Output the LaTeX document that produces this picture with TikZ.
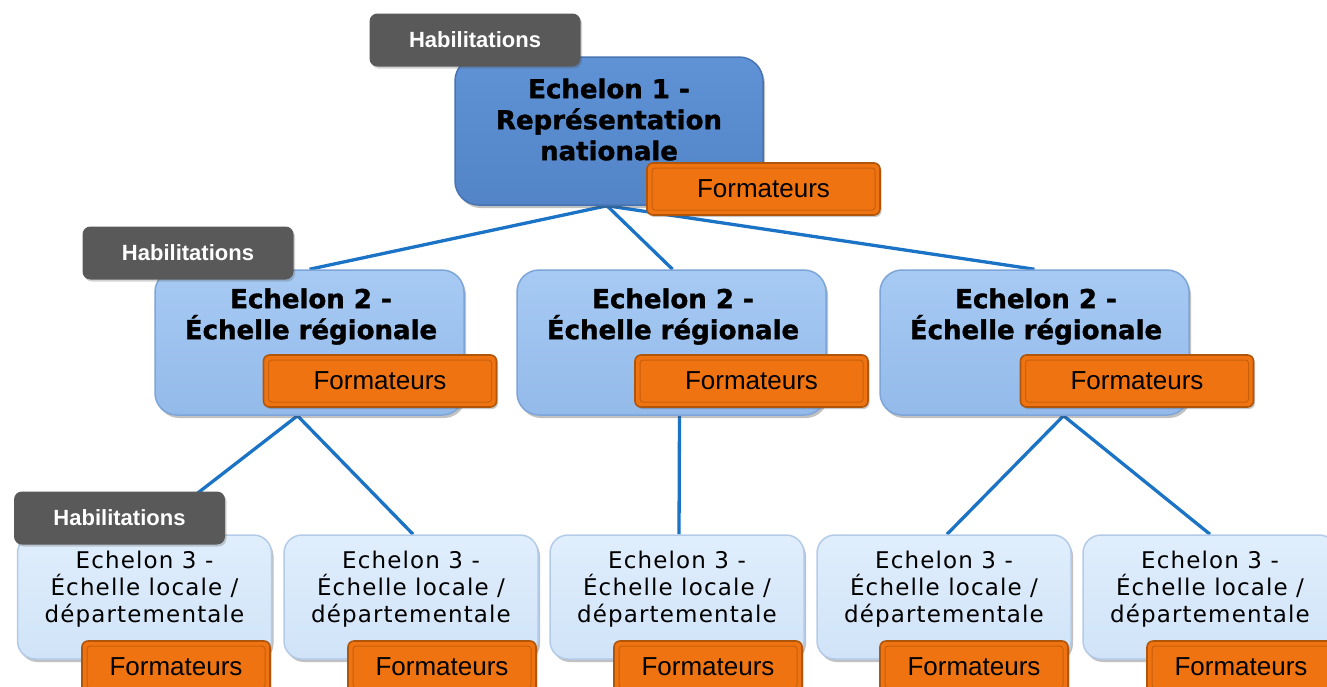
\documentclass[tikz,border=0pt]{standalone}
\usepackage{fontspec}
\newfontfamily\djfont{DejaVu Sans}[LetterSpace=5]
\newfontfamily\djbold{DejaVu Sans Bold}[FakeBold=1.4]
\newfontfamily\libfont{Liberation Sans}
\usetikzlibrary{shadows}
\pgfdeclarelayer{bg}
\pgfsetlayers{bg,main}
\definecolor{connblue}{HTML}{1B73C6}
\definecolor{eonetop}{HTML}{5F93D6}
\definecolor{eonebot}{HTML}{5284C7}
\definecolor{eonedraw}{HTML}{4673B2}
\definecolor{etwotop}{HTML}{A6CAF3}
\definecolor{etwobot}{HTML}{94BAEA}
\definecolor{etwodraw}{HTML}{7EA5D8}
\definecolor{ethreetop}{HTML}{E0EEFC}
\definecolor{ethreebot}{HTML}{D0E3F8}
\definecolor{ethreedraw}{HTML}{B3CBE8}
\definecolor{formorange}{HTML}{EF7411}
\definecolor{formdark}{HTML}{B0560B}
\definecolor{formline}{HTML}{C8600C}
\definecolor{habgray}{HTML}{595959}
\begin{document}
\begin{tikzpicture}[x=1pt,y=-1pt,
  eshadow/.style={drop shadow={shadow xshift=2pt, shadow yshift=-3pt, opacity=0.35, fill=black!70}},
  ebox/.style={eshadow, line width=1.5pt, inner sep=0pt},
  eonebox/.style={ebox, top color=eonetop, bottom color=eonebot, draw=eonedraw, rounded corners=24pt, minimum width=308pt, minimum height=148pt},
  etwobox/.style={ebox, top color=etwotop, bottom color=etwobot, draw=etwodraw, rounded corners=22pt, minimum width=309pt, minimum height=145pt},
  ethreebox/.style={ebox, top color=ethreetop, bottom color=ethreebot, draw=ethreedraw, rounded corners=18pt, minimum width=254pt, minimum height=124pt},
  boldtext/.style={align=center, inner sep=0pt, font=\djbold\fontsize{26}{31}\selectfont},
  regtext/.style={align=center, inner sep=0pt, font=\djfont\fontsize{23}{27}\selectfont},
  form/.style={draw=formdark, line width=1.6pt, fill=formorange, rounded corners=6pt,
    minimum width=233pt, minimum height=52pt, inner sep=0pt,
    font=\libfont\fontsize{26}{30}\selectfont, text=black,
    drop shadow={shadow xshift=1.5pt, shadow yshift=-2pt, opacity=0.3, fill=black!70},
    path picture={\draw[formline, line width=1pt, rounded corners=3pt]
      ([xshift=5pt,yshift=-5pt]path picture bounding box.north west) rectangle
      ([xshift=-5pt,yshift=5pt]path picture bounding box.south east);}},
  formsmall/.style={form, minimum width=188pt},
  hab/.style={fill=habgray, rounded corners=8pt, minimum width=211pt, minimum height=53pt,
    inner sep=0pt, text=white, font=\libfont\bfseries\fontsize{22}{26}\selectfont,
    drop shadow={shadow xshift=1.5pt, shadow yshift=-2pt, opacity=0.25, fill=black!70}},
  conn/.style={draw=connblue, line width=3.3pt}
]
\useasboundingbox (0,0) rectangle (1327,686);

% level 1
\node[eonebox] (E1) at (609,131) {};
\node[boldtext] (E1t) at (609,119.5) {Echelon 1 -\\Représentation\\nationale};

% level 2
\node[etwobox] (E2a) at (309.5,342.5) {};
\node[etwobox] (E2b) at (671.5,342.5) {};
\node[etwobox] (E2c) at (1034.5,342.5) {};
\node[boldtext] (E2at) at (311,316.5) {Echelon 2 -\\Échelle régionale};
\node[boldtext] (E2bt) at (673,316.5) {Echelon 2 -\\Échelle régionale};
\node[boldtext] (E2ct) at (1036,316.5) {Echelon 2 -\\Échelle régionale};

% level 3
\node[ethreebox] (E3a) at (144.5,597) {};
\node[ethreebox] (E3b) at (411,597) {};
\node[ethreebox] (E3c) at (677,597) {};
\node[ethreebox] (E3d) at (944,597) {};
\node[ethreebox] (E3e) at (1210,597) {};
\node[regtext] (E3at) at (144.5,589) {Echelon 3 -\\Échelle locale /\\départementale};
\node[regtext] (E3bt) at (411,589) {Echelon 3 -\\Échelle locale /\\départementale};
\node[regtext] (E3ct) at (677,589) {Echelon 3 -\\Échelle locale /\\départementale};
\node[regtext] (E3dt) at (944,589) {Echelon 3 -\\Échelle locale /\\départementale};
\node[regtext] (E3et) at (1210,589) {Echelon 3 -\\Échelle locale /\\départementale};

% formateurs
\node[form] (F1) at (763.5,189) {Formateurs};
\node[form] (F2a) at (380,381) {Formateurs};
\node[form] (F2b) at (751.5,381) {Formateurs};
\node[form] (F2c) at (1137,381) {Formateurs};
\node[formsmall] (F3a) at (176,667) {Formateurs};
\node[formsmall] (F3b) at (442,667) {Formateurs};
\node[formsmall] (F3c) at (708,667) {Formateurs};
\node[formsmall] (F3d) at (974,667) {Formateurs};
\node[formsmall] (F3e) at (1241,667) {Formateurs};

% habilitations
\node[hab] (H1) at (475,40) {Habilitations};
\node[hab] (H2) at (188,253) {Habilitations};
\node[hab] (H3) at (119.5,518) {Habilitations};

% connectors
\begin{pgfonlayer}{bg}
\draw[conn] ([xshift=-2pt]E1.south) -- (E2a.north);
\draw[conn] ([xshift=-2pt]E1.south) -- ([xshift=1pt]E2b.north);
\draw[conn] ([xshift=-2pt]E1.south) -- (E2c.north);
\draw[conn] ([xshift=-12pt]E2a.south) -- (E3a.north);
\draw[conn] ([xshift=-12pt]E2a.south) -- ([xshift=2pt]E3b.north);
\draw[conn] ([xshift=8pt]E2b.south) -- ([xshift=2pt]E3c.north);
\draw[conn] ([xshift=29pt]E2c.south) -- ([xshift=3pt]E3d.north);
\draw[conn] ([xshift=29pt]E2c.south) -- (E3e.north);
\end{pgfonlayer}
\end{tikzpicture}
\end{document}
